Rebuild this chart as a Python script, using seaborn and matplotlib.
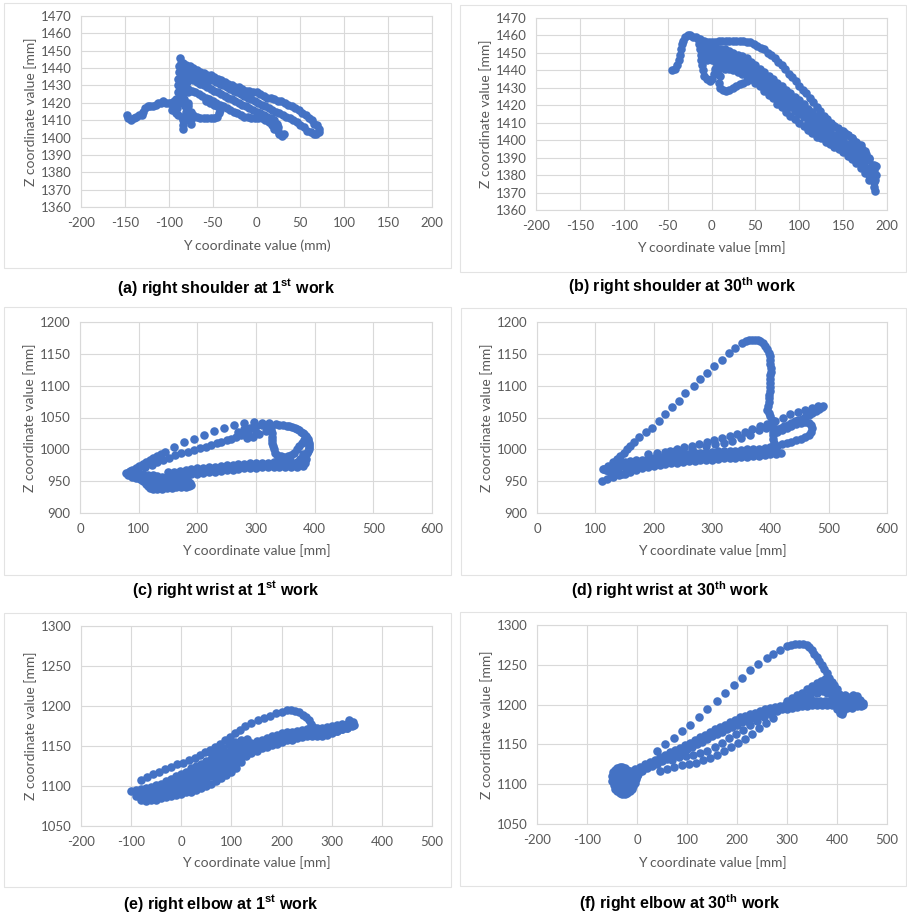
import matplotlib
matplotlib.use("Agg")
import matplotlib.pyplot as plt
import seaborn as sns
import pandas as pd
from matplotlib.patches import Rectangle

# (Y, Z) marker positions, in mm
shoulder_1st = [
    # tail on the left
    (-148, 1413), (-146, 1411), (-143, 1410), (-140, 1411), (-137, 1412), (-134, 1413), (-131, 1413),
    (-129, 1415), (-127, 1417), (-124, 1418), (-121, 1418), (-118, 1418), (-115, 1419), (-112, 1420),
    (-109, 1420), (-106, 1421), (-103, 1420), (-100, 1420), (-97, 1420), (-94, 1421), (-91, 1421),
    # vertical cluster
    (-87, 1446), (-86, 1443), (-88, 1441), (-85, 1440), (-88, 1438), (-86, 1436), (-89, 1434), (-86, 1432),
    (-89, 1430), (-86, 1428), (-90, 1426), (-87, 1424), (-92, 1422), (-88, 1420), (-95, 1419), (-91, 1417),
    (-96, 1416), (-92, 1414), (-89, 1413), (-85, 1412), (-84, 1410), (-84, 1407), (-84, 1405), (-82, 1438),
    (-82, 1434), (-82, 1430), (-83, 1426), (-83, 1422), (-82, 1418), (-80, 1415), (-79, 1412), (-77, 1410),
    (-75, 1408), (-74, 1411), (-78, 1420), (-78, 1426), (-79, 1432), (-79, 1437),
    # outer loop, upper side
    (-84, 1443), (-80, 1442), (-76, 1441), (-72, 1440), (-68, 1439), (-64, 1438), (-60, 1437), (-56, 1436),
    (-52, 1436), (-48, 1435), (-44, 1434), (-40, 1433), (-36, 1432), (-32, 1431), (-28, 1430), (-24, 1429),
    (-20, 1429), (-16, 1428), (-12, 1427), (-8, 1427), (-4, 1426), (0, 1426), (4, 1425), (8, 1424),
    (12, 1423), (16, 1423), (20, 1422), (24, 1421), (28, 1421), (32, 1420), (36, 1419), (40, 1418),
    (44, 1417), (48, 1416), (52, 1414), (56, 1413), (60, 1411), (63, 1410), (66, 1408), (69, 1407),
    (71, 1405), (71, 1403), (68, 1402), (65, 1402),
    # outer loop, return
    (62, 1403), (58, 1404), (54, 1406), (50, 1407), (46, 1409), (42, 1410), (38, 1411), (34, 1412),
    (30, 1413), (26, 1414), (22, 1415), (18, 1416), (14, 1417), (10, 1418), (6, 1419), (2, 1420),
    (-2, 1421), (-6, 1422), (-10, 1423), (-14, 1424), (-18, 1425), (-22, 1426), (-26, 1427), (-30, 1428),
    (-34, 1429), (-38, 1430), (-42, 1431), (-46, 1432), (-50, 1433), (-54, 1434), (-58, 1435), (-62, 1436),
    (-66, 1437), (-70, 1438),
    # inner strands
    (-80, 1436), (-76, 1434), (-72, 1433), (-68, 1432), (-64, 1431), (-60, 1430), (-56, 1429), (-52, 1428),
    (-48, 1427), (-44, 1426), (-40, 1425), (-36, 1424), (-32, 1423), (-28, 1422), (-24, 1421), (-20, 1420),
    (-16, 1419), (-12, 1418), (-8, 1417), (-4, 1416), (0, 1415), (4, 1414), (8, 1413), (12, 1412),
    (16, 1411), (20, 1410), (23, 1408), (25, 1406), (24, 1404), (26, 1402), (29, 1401), (31, 1402),
    (-78, 1428), (-74, 1427), (-70, 1426), (-66, 1425), (-62, 1424), (-58, 1423), (-54, 1422), (-50, 1421),
    (-46, 1420), (-42, 1419), (-38, 1418), (-34, 1417), (-30, 1416), (-26, 1415), (-22, 1414), (-18, 1413),
    (-14, 1412), (-10, 1412), (-6, 1411), (-2, 1411), (2, 1411), (6, 1411), (10, 1410), (14, 1409),
    (18, 1407), (20, 1405),
    (-80, 1440), (-76, 1438), (-72, 1436), (-68, 1434), (-64, 1433), (-60, 1431), (-56, 1430),
    # lower lobe
    (-78, 1418), (-75, 1415), (-72, 1413), (-68, 1412), (-64, 1411), (-60, 1411), (-56, 1411), (-52, 1411),
    (-48, 1411), (-45, 1412), (-43, 1414), (-42, 1416), (-45, 1418), (-49, 1419), (-53, 1420), (-57, 1421),
]

shoulder_30th = [
    # start tail and top arc
    (-45, 1440), (-42, 1441), (-39, 1443), (-37, 1446), (-36, 1449), (-35, 1452), (-34, 1455), (-32, 1457),
    (-30, 1459), (-27, 1460), (-24, 1460), (-21, 1459), (-18, 1459), (-15, 1458), (-12, 1457), (-9, 1457),
    (-6, 1456), (-3, 1456), (0, 1456), (4, 1456), (8, 1457), (12, 1457), (16, 1457), (20, 1457),
    (24, 1457), (28, 1457), (32, 1457), (36, 1457), (40, 1456), (44, 1456), (48, 1455), (52, 1454),
    (56, 1453), (60, 1452), (64, 1450), (68, 1449), (72, 1447), (76, 1445), (80, 1443), (84, 1441),
    (88, 1438), (92, 1436), (96, 1434), (100, 1431), (104, 1429), (108, 1427), (112, 1424), (116, 1422),
    (120, 1419), (124, 1417), (128, 1414), (132, 1412), (136, 1410), (140, 1408), (144, 1407), (148, 1405),
    (152, 1404), (156, 1403), (160, 1401), (164, 1399), (168, 1397), (172, 1395), (176, 1392), (180, 1389),
    (183, 1386), (185, 1383),
    # main band, top strand
    (-10, 1455), (-5, 1454), (0, 1453), (5, 1453), (10, 1452), (15, 1452), (20, 1451), (25, 1450),
    (30, 1449), (35, 1448), (40, 1447), (45, 1445), (50, 1443), (55, 1441), (60, 1439), (65, 1437),
    (70, 1435), (75, 1433), (80, 1431), (85, 1429), (90, 1427), (95, 1425), (100, 1423), (105, 1421),
    (110, 1418), (115, 1416), (120, 1414), (125, 1412), (130, 1410), (135, 1409), (140, 1408), (145, 1406),
    (150, 1405), (155, 1403), (160, 1401), (165, 1399), (170, 1397), (175, 1394), (180, 1390), (185, 1386),
    # second strand
    (-10, 1451), (-5, 1450), (0, 1449), (5, 1449), (10, 1448), (15, 1448), (20, 1447), (25, 1446),
    (30, 1445), (35, 1444), (40, 1443), (45, 1441), (50, 1439), (55, 1437), (60, 1435), (65, 1433),
    (70, 1431), (75, 1429), (80, 1427), (85, 1425), (90, 1423), (95, 1421), (100, 1419), (105, 1417),
    (110, 1414), (115, 1412), (120, 1410), (125, 1408), (130, 1406), (135, 1405), (140, 1403), (145, 1402),
    (150, 1400), (155, 1398), (160, 1396), (165, 1394), (170, 1391), (175, 1388), (180, 1384), (185, 1380),
    # third strand
    (-5, 1446), (0, 1446), (5, 1445), (10, 1444), (15, 1444), (20, 1443), (25, 1442), (30, 1441),
    (35, 1440), (40, 1439), (45, 1437), (50, 1435), (55, 1433), (60, 1431), (65, 1429), (70, 1427),
    (75, 1425), (80, 1423), (85, 1421), (90, 1419), (95, 1417), (100, 1415), (105, 1413), (110, 1410),
    (115, 1408), (120, 1406), (125, 1404), (130, 1402), (135, 1401), (140, 1399), (145, 1398), (150, 1396),
    (155, 1394), (160, 1392), (165, 1390), (170, 1387), (175, 1384), (180, 1380), (185, 1376),
    # bottom strand
    (10, 1442), (15, 1441), (20, 1441), (25, 1440), (30, 1439), (35, 1438), (40, 1437), (45, 1435),
    (50, 1433), (55, 1431), (60, 1428), (65, 1426), (70, 1424), (75, 1421), (80, 1419), (85, 1416),
    (90, 1414), (95, 1412), (100, 1410), (105, 1408), (110, 1406), (115, 1404), (120, 1402), (125, 1401),
    (130, 1399), (135, 1398), (140, 1396), (145, 1395), (150, 1393), (155, 1391), (160, 1389), (165, 1387),
    (170, 1384), (175, 1381), (180, 1377), (185, 1373), (186, 1371),
    (187, 1380), (187, 1385), (186, 1377), (184, 1381),
    # left loops
    (-13, 1458), (-14, 1455), (-13, 1452), (-12, 1449), (-12, 1446), (-11, 1443), (-10, 1440), (-8, 1437),
    (-5, 1435), (-2, 1434), (1, 1435), (3, 1438), (4, 1441), (6, 1443), (9, 1441), (10, 1437),
    (9, 1433), (10, 1430), (13, 1429), (16, 1428), (20, 1429), (24, 1430), (28, 1431), (32, 1432),
    (36, 1433), (40, 1434), (44, 1435), (48, 1436),
]

wrist_1st = [
    # outer dotted arc
    (79, 963), (84, 965), (89, 968), (95, 971), (101, 974), (107, 977), (113, 980), (119, 983),
    (125, 986), (131, 989), (138, 993), (145, 996), (161, 1004), (178, 1011), (195, 1017), (212, 1023),
    (229, 1029), (246, 1034), (263, 1038), (280, 1041), (296, 1043), (310, 1042), (322, 1041), (334, 1040),
    (340, 1039), (346, 1038), (352, 1037), (357, 1036), (362, 1035), (366, 1034), (370, 1032), (374, 1030),
    (377, 1028), (380, 1026), (382, 1024), (385, 1021), (386, 1019), (388, 1016), (389, 1013), (390, 1010),
    (391, 1007), (390, 1004), (390, 1001), (388, 998), (387, 995), (385, 993), (383, 990), (381, 988),
    (379, 986), (377, 984), (375, 982), (373, 980),
    # inner dotted line
    (99, 968), (110, 972), (122, 976), (132, 980), (142, 983), (152, 987), (162, 991), (173, 994),
    (184, 996), (194, 999), (204, 1002), (214, 1004), (224, 1007), (233, 1010), (241, 1012), (250, 1015),
    (258, 1017), (266, 1019), (275, 1022), (286, 1025), (300, 1028), (317, 1029),
    (270, 1028), (280, 1032), (290, 1034), (300, 1036), (310, 1038), (285, 1018), (295, 1020), (305, 1024),
    (318, 1036),
    # small loop on the right
    (325, 1035), (326, 1030), (327, 1025), (327, 1020), (328, 1015), (328, 1010), (329, 1005), (330, 1000),
    (332, 995), (336, 991), (342, 989), (348, 988), (354, 989), (360, 991), (365, 995), (370, 1000),
    (374, 1005), (378, 1010), (382, 1015), (386, 1020),
    # lower band
    (150, 964), (160, 965), (170, 966), (180, 968), (190, 969), (200, 970), (210, 971), (220, 972),
    (230, 973), (240, 974), (250, 975), (260, 976), (270, 977), (280, 977), (290, 978), (300, 978),
    (310, 979), (320, 979), (330, 980), (340, 980), (350, 980), (360, 980), (370, 980), (378, 979),
    (150, 955), (160, 957), (170, 958), (180, 960), (190, 961), (200, 962), (210, 963), (220, 964),
    (230, 965), (240, 966), (250, 967), (260, 968), (270, 969), (280, 970), (290, 970), (300, 971),
    (310, 972), (320, 972), (330, 973), (340, 973), (350, 973), (360, 973), (370, 973), (380, 974),
    (385, 985), (383, 978), (375, 985), (380, 992),
    # bottom left loops
    (82, 960), (88, 957), (95, 955), (102, 953), (108, 950), (112, 946), (116, 942), (120, 939),
    (125, 937), (132, 937), (140, 938), (148, 939), (156, 940), (164, 941), (172, 941), (180, 941),
    (186, 942), (190, 944), (188, 947),
    (85, 966), (92, 964), (100, 962), (108, 961), (116, 960), (124, 959), (132, 958), (140, 956), (148, 955),
    (105, 952), (112, 951), (120, 950), (128, 949), (136, 948), (144, 948), (152, 949), (160, 950),
    (168, 951), (176, 952), (184, 950),
]

wrist_30th = [
    # big dotted loop
    (114, 969), (122, 974), (131, 980), (137, 985), (143, 990), (149, 995), (154, 1000), (160, 1005),
    (166, 1011), (174, 1019), (186, 1027), (197, 1034), (209, 1045), (220, 1055), (231, 1066), (243, 1076),
    (254, 1088), (269, 1100), (280, 1110), (291, 1120), (303, 1131), (317, 1141), (329, 1152), (340, 1159),
    (351, 1167), (358, 1170), (363, 1171), (368, 1172), (374, 1172), (379, 1171), (383, 1170), (387, 1167),
    (391, 1162), (394, 1157), (397, 1152), (399, 1146), (400, 1140), (400, 1134), (401, 1128), (401, 1122),
    (400, 1116), (400, 1110), (400, 1104), (399, 1098), (399, 1092), (398, 1086), (398, 1080), (397, 1074),
    (396, 1068), (395, 1062), (397, 1057), (400, 1052), (402, 1046), (403, 1040), (404, 1034), (404, 1028),
    (405, 1022), (405, 1016), (406, 1010), (406, 1004), (406, 998),
    # middle dotted rows
    (228, 997), (240, 1001), (252, 1004), (265, 1006), (278, 1009), (291, 1012), (304, 1015), (317, 1018),
    (330, 1021), (343, 1024), (356, 1028), (369, 1032), (382, 1036), (395, 1040), (408, 1045), (421, 1050),
    (434, 1055), (447, 1059), (460, 1062), (472, 1065), (482, 1068), (490, 1068),
    (290, 1005), (305, 1008), (320, 1010), (335, 1013), (350, 1018), (365, 1023), (380, 1030), (392, 1033),
    # right loops
    (488, 1066), (484, 1063), (478, 1060), (472, 1057), (466, 1054), (460, 1051), (454, 1048), (448, 1046),
    (442, 1044), (436, 1041), (430, 1038), (424, 1036), (418, 1034), (412, 1032),
    (412, 1028), (420, 1031), (428, 1034), (436, 1037), (444, 1040), (452, 1042), (460, 1043), (466, 1042),
    (470, 1038), (471, 1033), (470, 1028), (466, 1023), (460, 1019), (452, 1016), (444, 1014), (436, 1012),
    (428, 1010), (420, 1008), (412, 1006), (406, 1004),
    # lower band
    (130, 975), (140, 978), (150, 980), (160, 982), (170, 983), (180, 984), (190, 986), (200, 987),
    (210, 988), (220, 989), (230, 990), (240, 991), (250, 992), (260, 993), (270, 994), (280, 995),
    (290, 996), (300, 996), (310, 997), (320, 997), (330, 998), (340, 998), (350, 999), (360, 1000),
    (370, 1000), (380, 1001), (390, 1002), (400, 1003), (408, 1004),
    (120, 968), (130, 970), (140, 972), (150, 974), (160, 976), (170, 977), (180, 978), (190, 979),
    (200, 981), (210, 982), (220, 983), (230, 984), (240, 985), (250, 986), (260, 987), (270, 988),
    (280, 988), (290, 989), (300, 990), (310, 990), (320, 991), (330, 991), (340, 992), (350, 992),
    (360, 993), (370, 994), (380, 994), (390, 995), (400, 996), (410, 997),
    (112, 950), (120, 953), (130, 956), (140, 959), (150, 962), (160, 965), (170, 968), (180, 970),
    (190, 972), (200, 974), (210, 976), (220, 977), (230, 978), (240, 979), (250, 980), (260, 981),
    (270, 982), (280, 983), (290, 984), (300, 984), (310, 985), (320, 986), (330, 986), (340, 987),
    (350, 988), (360, 988), (370, 989), (380, 990), (390, 991), (400, 992), (410, 993), (418, 995),
    (113, 969), (119, 967), (125, 964), (132, 962), (139, 961), (146, 962), (153, 965),
    (190, 992), (205, 994), (220, 996), (236, 998), (250, 999), (266, 1001),
]

elbow_1st = [
    # top strand of the band
    (-100, 1094), (-90, 1095), (-80, 1096), (-70, 1097), (-60, 1099), (-50, 1101), (-40, 1103), (-30, 1106),
    (-20, 1109), (-10, 1112), (0, 1115), (10, 1118), (20, 1122), (30, 1125), (40, 1128), (50, 1131),
    (60, 1134), (70, 1137), (80, 1140), (90, 1143), (100, 1146), (110, 1148), (120, 1150), (130, 1152),
    (140, 1154), (150, 1156), (160, 1158), (170, 1160), (180, 1162), (190, 1164), (200, 1166), (210, 1167),
    (220, 1168), (230, 1169), (240, 1170), (250, 1171), (260, 1171), (270, 1172), (280, 1173), (290, 1174),
    (300, 1175), (310, 1176), (320, 1178), (330, 1178), (340, 1176),
    # second strand
    (-90, 1088), (-80, 1089), (-70, 1090), (-60, 1092), (-50, 1094), (-40, 1096), (-30, 1099), (-20, 1102),
    (-10, 1105), (0, 1108), (10, 1111), (20, 1115), (30, 1118), (40, 1121), (50, 1124), (60, 1127),
    (70, 1130), (80, 1133), (90, 1136), (100, 1139), (110, 1141), (120, 1143), (130, 1145), (140, 1147),
    (150, 1149), (160, 1151), (170, 1153), (180, 1155), (190, 1157), (200, 1159), (210, 1160), (220, 1161),
    (230, 1162), (240, 1163), (250, 1164), (260, 1164), (270, 1165), (280, 1166), (290, 1167), (300, 1168),
    (310, 1169), (320, 1171), (330, 1172),
    # middle strands
    (-60, 1088), (-50, 1090), (-40, 1092), (-30, 1095), (-20, 1097), (-10, 1100), (0, 1102), (10, 1105),
    (20, 1108), (30, 1111), (40, 1114), (50, 1117), (60, 1120), (70, 1123), (80, 1127), (90, 1130),
    (100, 1133), (110, 1136), (120, 1139),
    (-20, 1092), (-10, 1094), (0, 1096), (10, 1098), (20, 1100), (30, 1103), (40, 1106), (50, 1109),
    (60, 1112), (70, 1115), (80, 1119), (90, 1122), (100, 1126), (110, 1130),
    # bottom strand
    (-80, 1082), (-70, 1081), (-60, 1082), (-50, 1083), (-40, 1085), (-30, 1086), (-20, 1088), (-10, 1089),
    (0, 1090), (10, 1092), (20, 1093), (30, 1095), (40, 1097), (50, 1100), (60, 1103), (70, 1106),
    (80, 1110), (90, 1114), (100, 1118), (110, 1123), (120, 1130), (130, 1137), (140, 1141), (150, 1144),
    (160, 1147), (170, 1149), (180, 1151), (190, 1153), (200, 1155), (210, 1157), (220, 1158), (230, 1160),
    (240, 1161), (250, 1162), (260, 1163), (270, 1163), (280, 1163), (290, 1164), (300, 1166), (310, 1169),
    (320, 1171), (330, 1173), (340, 1175),
    (345, 1176), (342, 1180), (335, 1182),
    # upper dotted arc
    (-80, 1108), (-68, 1111), (-56, 1115), (-44, 1118), (-32, 1121), (-20, 1124), (-8, 1127), (4, 1129),
    (16, 1132), (28, 1135), (38, 1139), (48, 1142), (58, 1145), (68, 1149), (78, 1153), (88, 1157),
    (98, 1161), (108, 1166), (118, 1170), (128, 1175), (140, 1179), (152, 1182), (164, 1185), (176, 1188),
    (188, 1191), (200, 1193), (210, 1195), (218, 1195), (226, 1194), (234, 1192), (242, 1189), (248, 1186),
    (254, 1182), (258, 1178), (262, 1174), (265, 1170), (270, 1168),
    # dotted row on top of the band
    (60, 1141), (72, 1145), (84, 1148), (96, 1152), (108, 1155), (120, 1157), (132, 1159),
]

elbow_30th = [
    # upper dotted line and its descent
    (40, 1142), (56, 1150), (73, 1158), (90, 1167), (106, 1175), (123, 1184), (140, 1194), (160, 1205),
    (176, 1215), (193, 1225), (209, 1233), (226, 1243), (242, 1251), (259, 1258), (272, 1264), (286, 1269),
    (299, 1273), (308, 1275), (316, 1276), (324, 1276), (332, 1276), (339, 1275), (344, 1272), (349, 1268),
    (354, 1264), (359, 1260), (364, 1255), (369, 1250), (374, 1245), (379, 1240), (384, 1234), (389, 1229),
    (394, 1224), (399, 1219), (404, 1213), (409, 1208), (414, 1203), (418, 1198),
    # main line
    (-45, 1108), (-35, 1111), (-25, 1114), (-15, 1116), (-5, 1119), (5, 1122), (15, 1125), (25, 1128),
    (35, 1131), (45, 1134), (55, 1137), (65, 1140), (75, 1143), (85, 1146), (95, 1149), (105, 1152),
    (115, 1156), (125, 1159), (135, 1162), (145, 1165), (155, 1169), (165, 1172), (175, 1175), (185, 1178),
    (195, 1181), (205, 1184), (215, 1186), (225, 1188), (235, 1190), (245, 1192), (255, 1194), (265, 1196),
    (275, 1197), (285, 1198), (295, 1199), (305, 1200), (315, 1201), (325, 1202), (335, 1203), (345, 1203),
    (355, 1204), (365, 1204), (375, 1204), (385, 1204), (395, 1204), (405, 1203), (415, 1203), (425, 1202),
    (435, 1202), (445, 1201), (452, 1200),
    (-40, 1103), (-30, 1106), (-20, 1109), (-10, 1112), (0, 1115), (10, 1117), (20, 1120), (30, 1123),
    (40, 1126), (50, 1129), (60, 1132), (70, 1135), (80, 1138), (90, 1141), (100, 1144), (110, 1147),
    (120, 1150), (130, 1153), (140, 1157), (150, 1160), (160, 1163), (170, 1166), (180, 1169), (190, 1172),
    (200, 1175), (210, 1178), (220, 1180), (230, 1183), (240, 1185), (250, 1187), (260, 1189), (270, 1191),
    (280, 1192), (290, 1194), (300, 1195), (310, 1196), (320, 1197), (330, 1198), (340, 1198), (350, 1199),
    (360, 1199), (370, 1199), (380, 1199), (390, 1199), (400, 1199), (410, 1198), (420, 1198), (430, 1199),
    (440, 1199),
    # dotted rows below the main line
    (46, 1117), (60, 1119), (74, 1121), (90, 1124), (104, 1125), (118, 1127), (132, 1130), (146, 1133),
    (160, 1137), (174, 1142), (188, 1147), (202, 1152), (216, 1157), (230, 1163), (244, 1170), (258, 1177),
    (272, 1183),
    (70, 1131), (84, 1134), (98, 1136), (112, 1137), (126, 1139), (140, 1142), (156, 1147), (170, 1152),
    (184, 1158), (198, 1163), (212, 1168), (226, 1174), (240, 1179), (254, 1184), (268, 1188),
    # peak and cluster on the right
    (300, 1205), (310, 1208), (320, 1212), (330, 1215), (340, 1219), (350, 1223), (360, 1227), (368, 1230),
    (375, 1232), (380, 1229), (384, 1224), (388, 1218), (392, 1212), (396, 1207),
    (310, 1204), (322, 1207), (334, 1210), (346, 1214), (356, 1218), (366, 1223), (372, 1226), (378, 1224),
    (383, 1219), (388, 1213),
    (330, 1207), (345, 1210), (360, 1214), (372, 1217), (380, 1215),
    (400, 1195), (405, 1190), (410, 1188), (412, 1192), (420, 1196), (430, 1196), (440, 1198), (448, 1198),
    (452, 1202), (445, 1206), (435, 1209), (425, 1210), (415, 1212), (405, 1212), (430, 1205), (440, 1211),
    (432, 1212), (420, 1206),
    # loops on the left
    (-50, 1110), (-50, 1104), (-47, 1099), (-44, 1094), (-40, 1091), (-35, 1089), (-30, 1088), (-25, 1088),
    (-20, 1089), (-15, 1091), (-11, 1094), (-8, 1098), (-5, 1102), (-3, 1106), (-1, 1110), (2, 1113),
    (-48, 1115), (-45, 1118), (-40, 1120), (-35, 1121), (-30, 1121), (-25, 1120), (-20, 1118),
    (-44, 1106), (-40, 1101), (-35, 1098), (-30, 1097), (-25, 1098), (-20, 1100), (-15, 1104), (-10, 1108),
    (-38, 1112), (-30, 1113), (-22, 1112), (-15, 1112),
]

captions = [
    r"(a) right shoulder at 1$^{\mathbf{st}}$ work",
    r"(b) right shoulder at 30$^{\mathbf{th}}$ work",
    r"(c) right wrist at 1$^{\mathbf{st}}$ work",
    r"(d) right wrist at 30$^{\mathbf{th}}$ work",
    r"(e) right elbow at 1$^{\mathbf{st}}$ work",
    r"(f) right elbow at 30$^{\mathbf{th}}$ work",
]
x_labels = ["Y coordinate value (mm)"] + ["Y coordinate value [mm]"] * 5
y_label = "Z coordinate value [mm]"

sns.set_theme(style="white")
plt.rcParams['font.family'] = ['Lato', 'DejaVu Sans']
plt.rcParams['mathtext.fontset'] = 'custom'
plt.rcParams['mathtext.rm'] = 'Liberation Sans'
plt.rcParams['mathtext.bf'] = 'Liberation Sans:bold'
plt.rcParams['axes.unicode_minus'] = False

W, H = 907, 916
fig = plt.figure(figsize=(W / 100, H / 100), dpi=100)

# layout in pixels: frame box, plot area (l, t, r, b), label spots, caption spot
panels = [
    dict(data=shoulder_1st, box=(4, 3, 451, 268), plot=(81, 16, 432, 207), xlim=(-200, 200, 50),
         ylim=(1360, 1470, 10), ylab_x=30, xlab_y=246, cap=(226, 287)),
    dict(data=shoulder_30th, box=(460, 5, 906, 272), plot=(536, 18, 887, 210), xlim=(-200, 200, 50),
         ylim=(1360, 1470, 10), ylab_x=485, xlab_y=248, cap=(682, 286)),
    dict(data=wrist_1st, box=(4, 307, 451, 575), plot=(80, 322, 432, 513), xlim=(0, 600, 100),
         ylim=(900, 1200, 50), ylab_x=29, xlab_y=551, cap=(226, 590)),
    dict(data=wrist_30th, box=(461, 308, 906, 575), plot=(537, 322, 887, 513), xlim=(0, 600, 100),
         ylim=(900, 1200, 50), ylab_x=486, xlab_y=551, cap=(670, 590)),
    dict(data=elbow_1st, box=(4, 613, 451, 887), plot=(81, 626, 432, 826), xlim=(-200, 500, 100),
         ylim=(1050, 1300, 50), ylab_x=30, xlab_y=863, cap=(221, 903)),
    dict(data=elbow_30th, box=(460, 612, 906, 886), plot=(537, 625, 887, 824), xlim=(-200, 500, 100),
         ylim=(1050, 1300, 50), ylab_x=486, xlab_y=863, cap=(680, 903)),
]

grid_col = '#d9d9d9'
text_col = '#595959'

for i, p in enumerate(panels):
    x0, y0, x1, y1 = p['box']
    fig.add_artist(Rectangle((x0 / W, 1 - y1 / H), (x1 - x0) / W, (y1 - y0) / H,
                             transform=fig.transFigure, fill=False, edgecolor='#e3e3e3', lw=0.8))
    l, t, r, b = p['plot']
    ax = fig.add_axes([l / W, 1 - b / H, (r - l) / W, (b - t) / H])
    df = pd.DataFrame(p['data'], columns=['y', 'z'])
    sns.scatterplot(data=df, x='y', y='z', ax=ax, color='#4472C4', s=38, linewidth=0, zorder=3)
    xa, xb, xs = p['xlim']
    ya, yb, ys = p['ylim']
    ax.set_xlim(xa, xb)
    ax.set_ylim(ya, yb)
    ax.set_xticks(list(range(xa, xb + 1, xs)))
    ax.set_yticks(list(range(ya, yb + 1, ys)))
    ax.grid(True, color=grid_col, lw=0.8)
    ax.set_axisbelow(True)
    for sp in ax.spines.values():
        sp.set_color(grid_col)
        sp.set_linewidth(0.8)
    ax.tick_params(length=0, labelsize=9.5, labelcolor=text_col, pad=7)
    ax.set_xlabel(x_labels[i], fontsize=10, color=text_col)
    ax.set_ylabel(y_label, fontsize=10, color=text_col)
    ax.yaxis.set_label_coords((p['ylab_x'] + 7 - l) / (r - l), 0.5)
    ax.xaxis.set_label_coords(0.5, (b - (p['xlab_y'] - 7)) / (b - t))
    cx, cy = p['cap']
    fig.text(cx / W, 1 - cy / H, captions[i], ha='center', va='center', fontsize=11.5,
             fontweight='bold', family=['Liberation Sans'], color='black')

fig.savefig('out.png', dpi=100, facecolor='white')
